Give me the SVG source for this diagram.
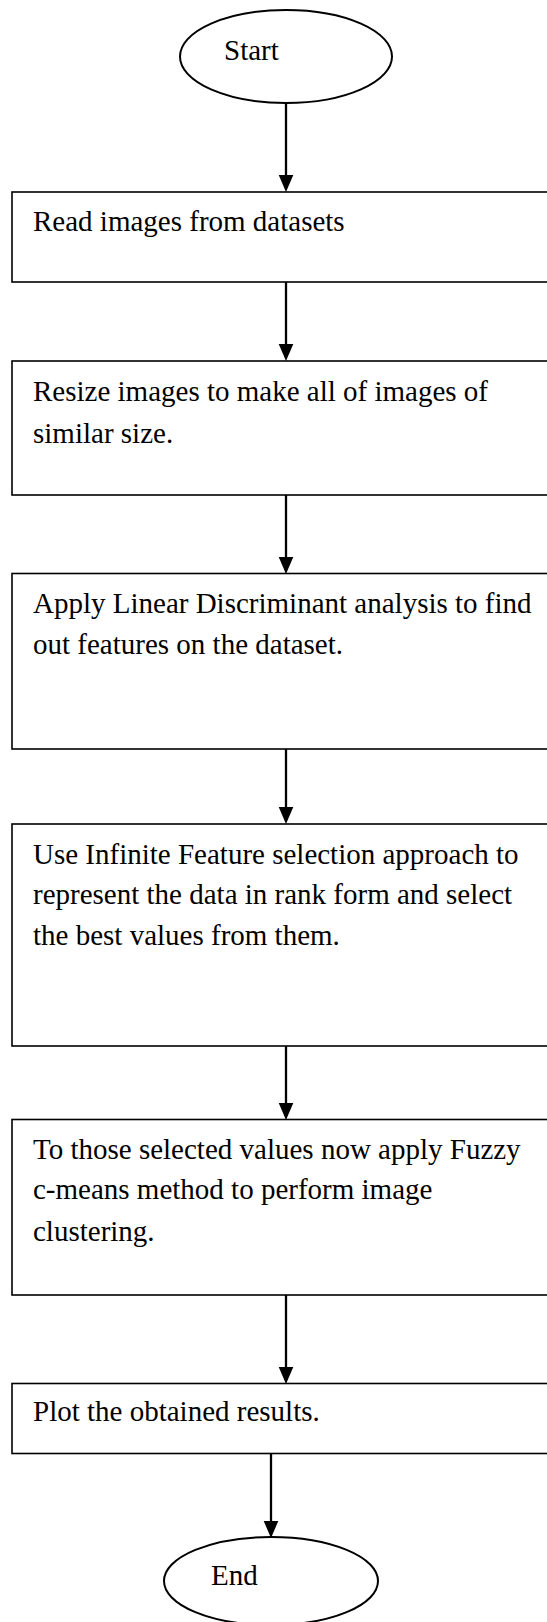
<svg xmlns="http://www.w3.org/2000/svg" width="547" height="1622" viewBox="0 0 547 1622">
  <style>
    .bg { fill: #ffffff; }
    .box { fill: #ffffff; stroke: #000000; stroke-width: 1.6; }
    .term { fill: #ffffff; stroke: #000000; stroke-width: 2; }
    .lbl { font-family: "Liberation Serif", "Times New Roman", serif; font-size: 29px; fill: #000000; }
    .edge { fill: none; stroke: #000000; stroke-width: 2.3; marker-end: url(#arrow); }
  </style>
  <defs>
    <!-- solid triangular head; the tip sits 4px beyond the end of the line -->
    <marker id="arrow" markerUnits="userSpaceOnUse" markerWidth="18" markerHeight="16" viewBox="0 0 18 16" refX="13" refY="8" orient="auto">
      <path d="M0,0.7 L17,8 L0,15.3 Z" fill="#000000"/>
    </marker>
  </defs>

  <rect class="bg" x="0" y="0" width="547" height="1622"/>

  <!-- connectors -->
  <g id="connectors">
    <line class="edge" x1="286" y1="103" x2="286" y2="188"/>
    <line class="edge" x1="286" y1="282" x2="286" y2="357"/>
    <line class="edge" x1="286" y1="495" x2="286" y2="570"/>
    <line class="edge" x1="286" y1="749" x2="286" y2="820"/>
    <line class="edge" x1="286" y1="1046" x2="286" y2="1116"/>
    <line class="edge" x1="286" y1="1295" x2="286" y2="1380"/>
    <line class="edge" x1="271" y1="1453" x2="271" y2="1534"/>
  </g>

  <!-- terminal: start -->
  <g id="start">
    <ellipse class="term" cx="286" cy="56.5" rx="106" ry="46.5"/>
    <text class="lbl" x="224" y="60">Start</text>
  </g>

  <g id="read">
    <rect class="box" x="12" y="192" width="560" height="90"/>
    <text class="lbl" x="33" y="231">Read images from datasets</text>
  </g>

  <g id="resize">
    <rect class="box" x="12" y="361" width="560" height="134"/>
    <text class="lbl" x="33" y="401">Resize images to make all of images of</text>
    <text class="lbl" x="33" y="442.5">similar size.</text>
  </g>

  <g id="lda">
    <rect class="box" x="12" y="573.5" width="560" height="175.5"/>
    <text class="lbl" x="33" y="612.5">Apply Linear Discriminant analysis to find</text>
    <text class="lbl" x="33" y="653.5">out features on the dataset.</text>
  </g>

  <g id="infinite-fs">
    <rect class="box" x="12" y="824" width="560" height="222"/>
    <text class="lbl" x="33" y="863.7">Use Infinite Feature selection approach to</text>
    <text class="lbl" x="33" y="904">represent the data in rank form and select</text>
    <text class="lbl" x="33" y="944.7">the best values from them.</text>
  </g>

  <g id="fcm">
    <rect class="box" x="12" y="1119.5" width="560" height="175.5"/>
    <text class="lbl" x="33" y="1158.7">To those selected values now apply Fuzzy</text>
    <text class="lbl" x="33" y="1199.2">c-means method to perform image</text>
    <text class="lbl" x="33" y="1240.7">clustering.</text>
  </g>

  <g id="plot">
    <rect class="box" x="12" y="1383.5" width="560" height="70"/>
    <text class="lbl" x="33" y="1421">Plot the obtained results.</text>
  </g>

  <!-- terminal: end -->
  <g id="end">
    <ellipse class="term" cx="271" cy="1581" rx="107" ry="44"/>
    <text class="lbl" x="211" y="1585">End</text>
  </g>
</svg>
